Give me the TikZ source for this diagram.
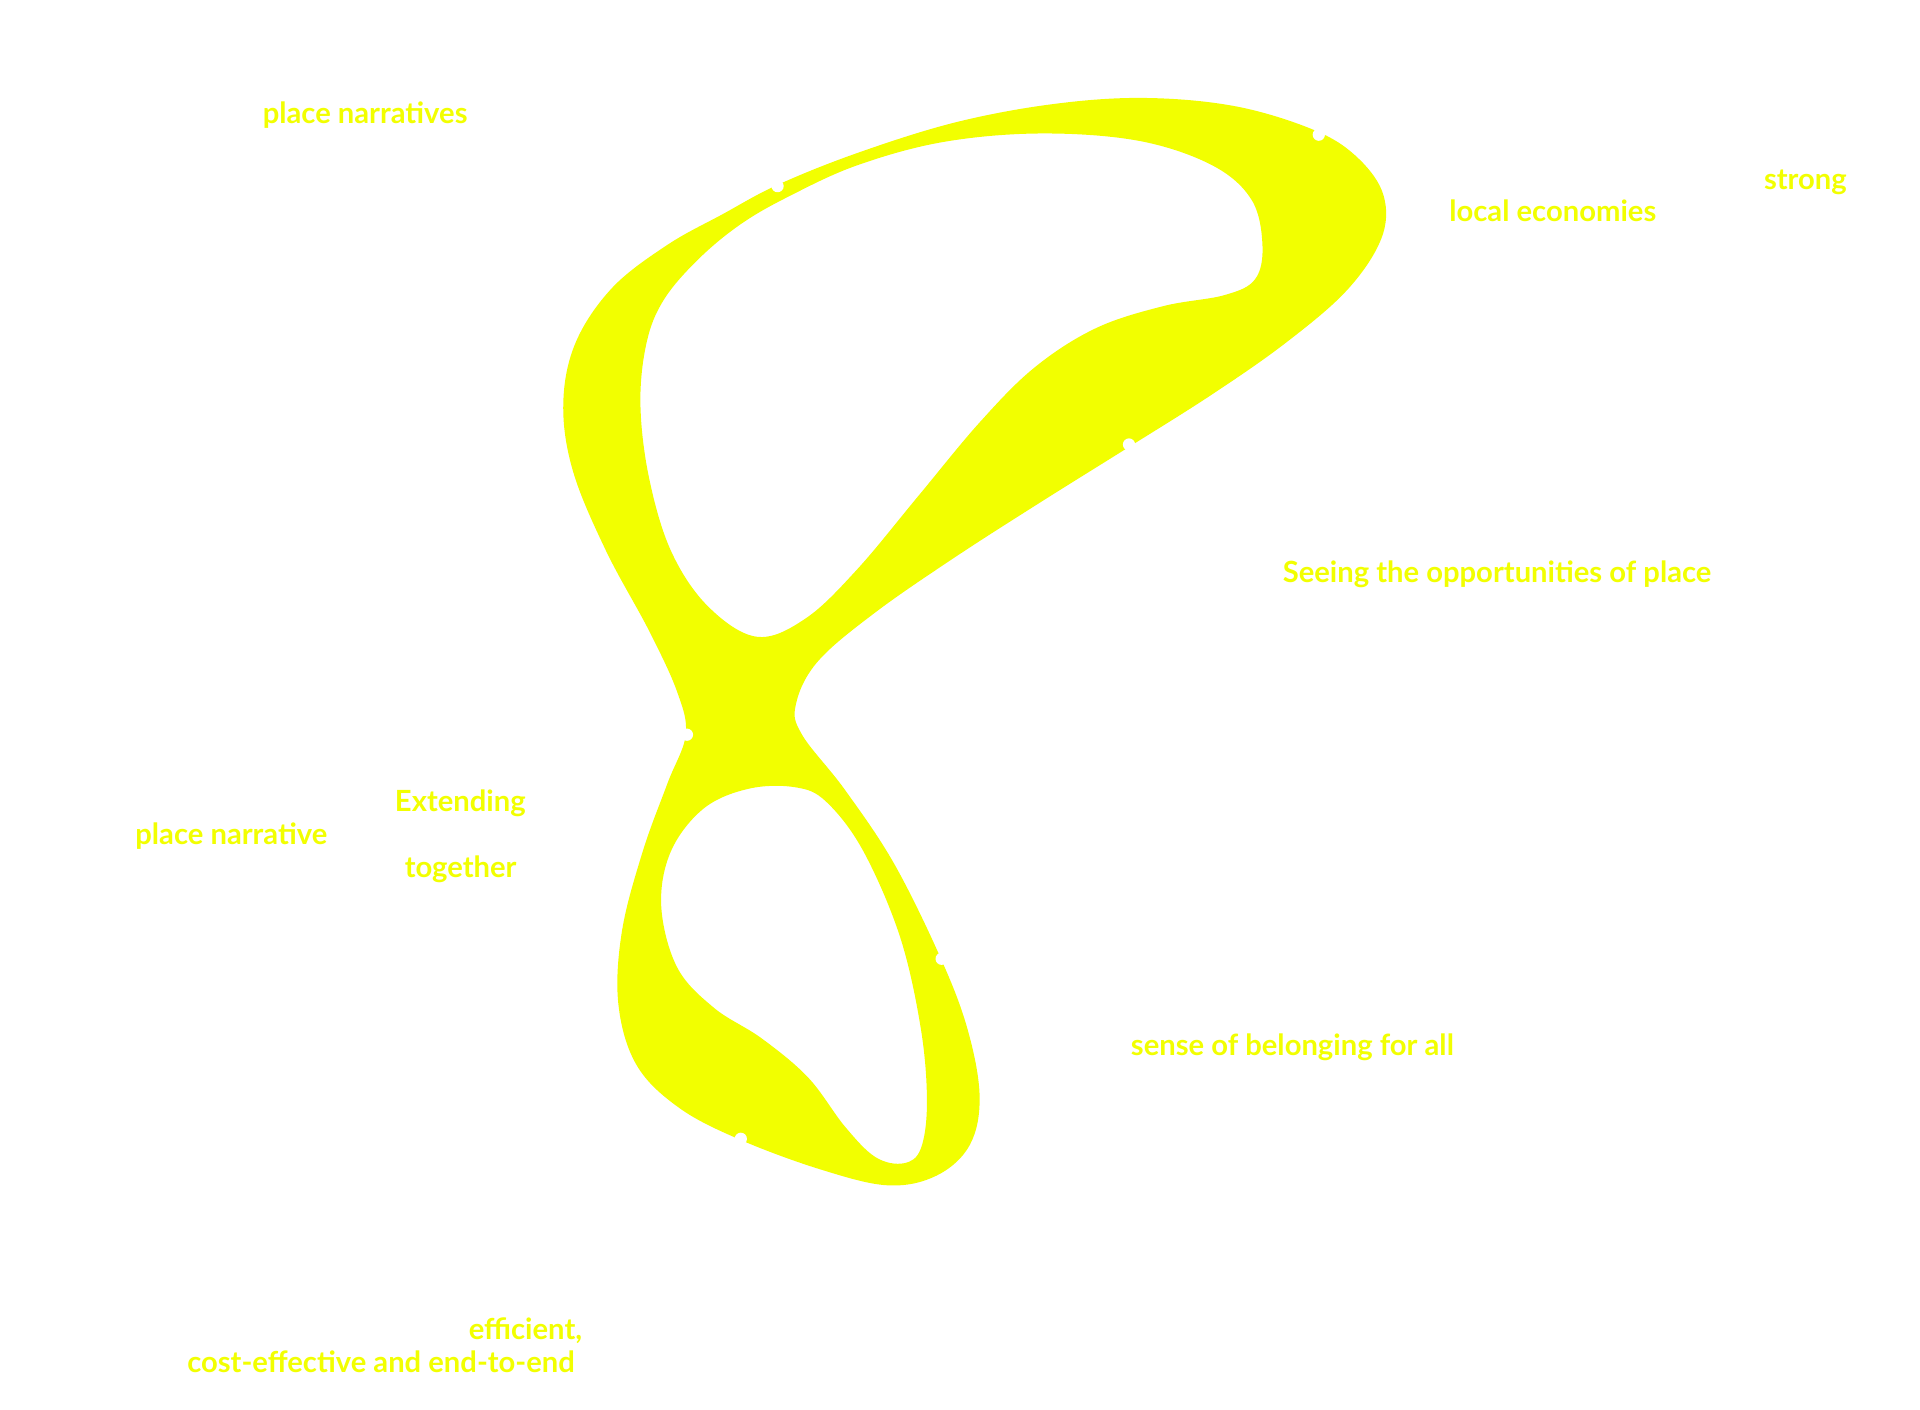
\documentclass[tikz,border=0pt]{standalone}
\usepackage{fontspec}
\setmainfont{Lato}
\usepackage{tikz}
\usetikzlibrary{calc,positioning}
\definecolor{loopc}{HTML}{F2FF00}
\definecolor{pagec}{HTML}{FFFFFF}
\tikzset{
  lbl/.style={font=\bfseries\fontsize{8.3}{10}\selectfont,text=loopc,inner sep=0pt},
  knot/.style={fill=pagec,draw=none}
}

\begin{document}
\begin{tikzpicture}[x=0.012245cm,y=-0.012245cm]
\useasboundingbox[fill=pagec] (0,0) rectangle (1568,1151);
% the ribbon, with its two holes
\fill[loopc,even odd rule]
  plot[smooth cycle,tension=0.6] coordinates {
    (635,151) (700,125) (780,100) (860,85) (935,80) (1010,87) (1075,107)
    (1110,130) (1130,160) (1128,195) (1100,237) (1050,280) (990,322)
    (922,365) (850,410) (780,455) (715,500) (668,540) (650,575) (655,600)
    (690,645) (730,705) (768,782) (790,840) (800,895) (792,935) (765,960)
    (725,968) (670,955) (605,931) (555,905) (520,870) (505,820) (508,760)
    (525,695) (545,640) (560,600) (553,565) (530,515) (495,450) (468,385)
    (460,330) (470,280) (500,235) (545,200) (590,175)}
  plot[smooth cycle,tension=0.6] coordinates {
    (618,520) (578,495) (548,450) (530,390) (523,330) (528,280) (542,245)
    (570,212) (605,183) (645,160) (700,135) (770,116) (850,109) (930,115)
    (990,135) (1022,163) (1031,200) (1025,228) (1000,241) (950,250)
    (895,268) (845,300) (800,345) (750,405) (700,465) (658,505)}
  plot[smooth cycle,tension=0.6] coordinates {
    (650,643) (675,655) (705,695) (735,765) (752,840) (757,900) (752,938)
    (738,950) (715,945) (690,920) (660,880) (622,848) (583,823) (553,790)
    (540,740) (548,695) (575,660) (612,644)};
% white notches on the rim
\foreach \p/\q in {635/152,1077/110,922/363,769/783,605/930,561/600}
  \fill[knot] (\p,\q) circle (5);
% labels
\node[lbl,anchor=base west] (narrs) at (214,101) {place narratives};
\node[lbl,anchor=base west] (strong) at (1440,155) {strong};
\node[lbl,anchor=base west] (econ) at (1183,181) {local economies};
\node[lbl,anchor=base west] (seeing) at (1047,476) {Seeing the opportunities of place};
\node[lbl,anchor=base west] (extend) at (322,663) {Extending};
\node[lbl,anchor=base west] (narr) at (110,690) {place narrative};
\node[lbl,anchor=base west] (together) at (330,717) {together};
\node[lbl,anchor=base west] (belong) at (923,862) {sense of belonging for all};
\node[lbl,anchor=base east] (effic) at (476,1094) {efficient,};
\node[lbl,anchor=base east] (costeff) at (470,1121) {cost-effective and end-to-end};
\end{tikzpicture}
\end{document}
